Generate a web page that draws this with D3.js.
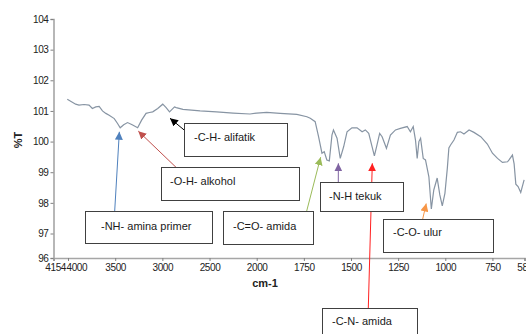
<!DOCTYPE html>
<html><head><meta charset="utf-8">
<script src="https://cdn.jsdelivr.net/npm/d3@7"></script>
<style>
html,body{margin:0;padding:0;background:#fff;}
svg{display:block;}
</style></head>
<body>
<svg id="c" width="526" height="334"></svg>
<script>
// ---- data ----
const wavenumber = [4008,3919,3884,3830,3777,3742,3706,3670,3635,3599,3564,3510,3475,3447,3410,3369,3320,3262,3220,3173,3137,3102,3049,2996,2960,2924,2871,2853,2782,2600,2426,2250,2071,2000,
1947,1876,1787,1734,1716,1690,1672,1654,1642,1628,1615,1601,1593,1574,1557,1539,1521,1495,1468,1441,1424,1406,1388,1376,1362,1348,1335,1312,1291,1264,1238,1202,1185,1170,1158,1149,1140,1131,1117,1105,1087,1074,1061,1043,1029,1016,1002,989,981,972,954,936,919,901,874,848,812,777,750,723,697,670,662,644,635,626,614,600,582];
const transmittance = [101.38,101.22,101.19,101.21,101.19,101.08,101.13,101.15,101.0,100.92,100.86,100.75,100.59,100.45,100.55,100.62,100.55,100.45,100.7,100.92,100.95,100.97,101.08,101.22,101.11,100.97,101.13,101.11,101.05,101.0,100.97,100.93,100.9,100.93,
100.95,100.92,100.89,100.81,100.76,100.65,100.16,99.62,99.67,99.4,99.37,100.21,100.38,100.11,99.45,99.83,100.32,100.45,100.45,100.32,100.38,100.27,99.83,99.53,99.89,100.27,100.16,99.78,100.21,100.38,100.43,100.49,100.32,100.49,100.05,99.45,100.0,100.11,99.45,99.4,98.85,97.8,98.42,98.81,98.26,97.9,98.31,99.14,99.79,99.89,100.05,100.3,100.32,100.25,100.38,100.3,100.16,99.92,99.62,99.45,99.32,99.34,99.4,99.56,99.27,98.61,98.53,98.34,98.75];
const xTicks = [4154,4000,3500,3000,2500,2000,1750,1500,1250,1000,750,580];
const yTicks = [96,97,98,99,100,101,102,103,104];
const labels = ["-NH- amina primer","-O-H- alkohol","-C-H- alifatik","-C=O- amida","-N-H tekuk","-C-N- amida","-C-O- ulur"];
const peakWn = [3456,3255,2919,1661,1567,1387,1101];
const peakT  = [100.32,100.34,100.76,99.49,99.29,99.29,97.98];

// ---- layout ----
const arrowColors = ["#4f81bd","#c0504d","#000000","#9bbb59","#8064a2","#ff2020","#f79646"];
const boxes = [
  {x:85, y:211, w:127, h:32, tx:101, ty:230, ax:114.7, ay:211},
  {x:161,y:167, w:138, h:33, tx:170, ty:185, ax:176,   ay:167.3},
  {x:184,y:123, w:103, h:33, tx:194, ty:141, ax:185,   ay:130.7},
  {x:223,y:211, w:90,  h:33, tx:233, ty:230, ax:306.7, ay:211},
  {x:320,y:182, w:83,  h:29, tx:329, ty:200, ax:338.3, ay:182},
  {x:322,y:308, w:95,  h:32, tx:332, ty:325, ax:368.3, ay:308},
  {x:383,y:219, w:110, h:33, tx:393, ty:236, ax:422.7, ay:219}
];

const svg = d3.select("#c");
const x = d3.scaleLinear().domain([4154,2000,580]).range([53.5,256.7,524.5]);
const y = d3.scaleLinear().domain([96,97,104]).range([258,233.5,19]);

// axes
const gx = svg.append("g").attr("transform","translate(0,258)")
  .call(d3.axisBottom(x).tickValues(xTicks).tickSize(3).tickPadding(3).tickFormat(d3.format("d")));
const gy = svg.append("g").attr("transform","translate(53.5,0)")
  .call(d3.axisLeft(y).tickValues(yTicks).tickSize(3).tickPadding(2).tickFormat(d3.format("d")));
[gx,gy].forEach(g=>{
  g.select(".domain").attr("stroke","#a6a6a6").attr("stroke-width",1.6);
  g.selectAll(".tick line").attr("stroke","#808080");
  g.selectAll(".tick text").attr("fill","#222").style("font-family","Liberation Sans, Arial, sans-serif")
    .style("font-size","10px").style("letter-spacing","-0.4px");
});
gx.selectAll(".tick text").filter(d=>d===4154).attr("text-anchor","end").attr("dx","12px");
gx.selectAll(".tick text").filter(d=>d===4000).attr("text-anchor","start").attr("dx","-2px");

// axis titles
svg.append("text").attr("x",265).attr("y",287).attr("text-anchor","middle")
  .style("font-family","Liberation Sans, Arial, sans-serif").style("font-size","11px").style("font-weight","bold")
  .attr("fill","#222").text("cm-1");
svg.append("text").attr("transform","translate(22,140) rotate(-90)").attr("text-anchor","middle")
  .style("font-family","Liberation Sans, Arial, sans-serif").style("font-size","11px").style("font-weight","bold")
  .attr("fill","#222").text("%T");

// spectrum
const pts = wavenumber.map((w,i)=>[w,transmittance[i]]);
svg.append("path").datum(pts)
  .attr("d", d3.line().x(d=>x(d[0])).y(d=>y(d[1])))
  .attr("fill","none").attr("stroke","#8794a3").attr("stroke-width",1.2);

// markers
const defs = svg.append("defs");
arrowColors.forEach((c,i)=>{
  defs.append("marker").attr("id","m"+i).attr("viewBox","0 0 10 10").attr("refX",10).attr("refY",5)
    .attr("markerWidth",8).attr("markerHeight",8).attr("markerUnits","userSpaceOnUse").attr("orient","auto")
    .append("path").attr("d","M0,0L10,5L0,10Z").attr("fill",c);
});

// annotations
boxes.forEach((b,i)=>{
  svg.append("line").attr("x1",b.ax).attr("y1",b.ay).attr("x2",x(peakWn[i])).attr("y2",y(peakT[i]))
    .attr("stroke",arrowColors[i]).attr("stroke-width",1).attr("marker-end","url(#m"+i+")");
});
boxes.forEach((b,i)=>{
  svg.append("rect").attr("x",b.x+0.5).attr("y",b.y+0.5).attr("width",b.w).attr("height",b.h)
    .attr("fill","#fff").attr("stroke","#404040").attr("stroke-width",1);
  svg.append("text").attr("x",b.tx).attr("y",b.ty)
    .style("font-family","Liberation Sans, Arial, sans-serif").style("font-size","11px")
    .attr("fill","#1a1a1a").text(labels[i]);
});
</script>
</body></html>
